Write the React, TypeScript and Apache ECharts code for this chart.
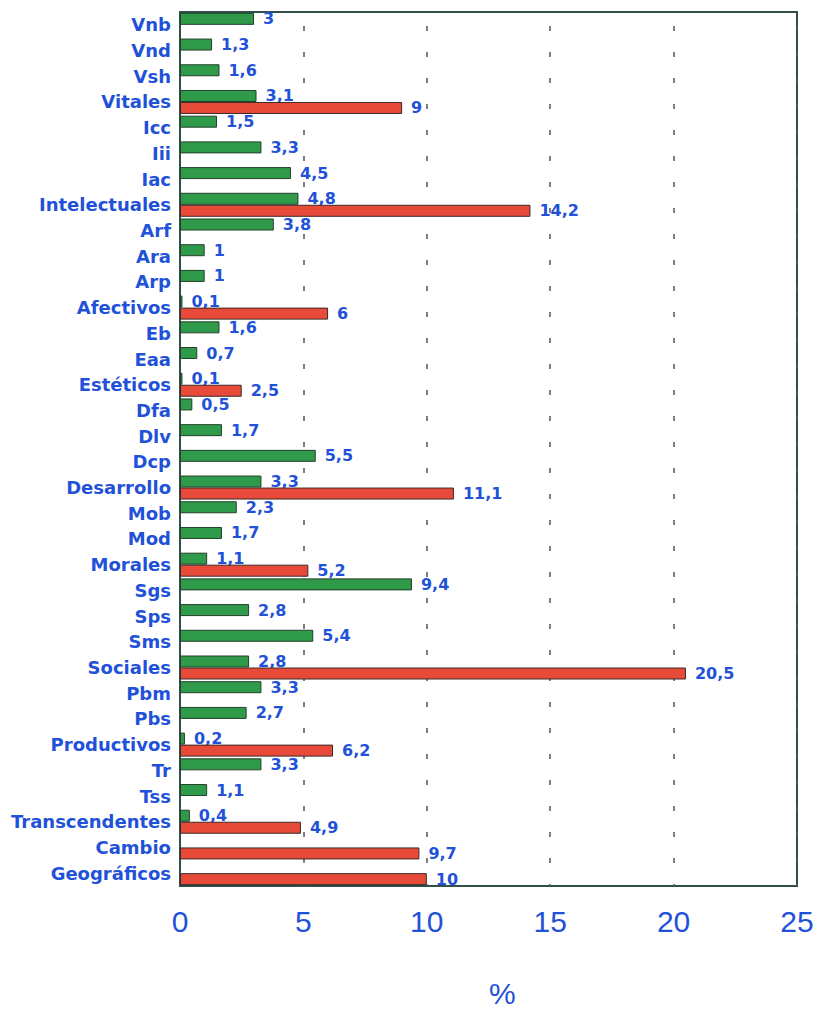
import React, { useEffect, useRef } from "react";
import * as echarts from "echarts";

const categories = [
  "Vnb", "Vnd", "Vsh", "Vitales", "Icc", "Iii", "Iac", "Intelectuales", "Arf", "Ara", "Arp",
  "Afectivos", "Eb", "Eaa", "Estéticos", "Dfa", "Dlv", "Dcp", "Desarrollo", "Mob", "Mod",
  "Morales", "Sgs", "Sps", "Sms", "Sociales", "Pbm", "Pbs", "Productivos", "Tr", "Tss",
  "Transcendentes", "Cambio", "Geográficos",
];

const greenValues: (number | null)[] = [
  3, 1.3, 1.6, 3.1, 1.5, 3.3, 4.5, 4.8, 3.8, 1, 1,
  0.1, 1.6, 0.7, 0.1, 0.5, 1.7, 5.5, 3.3, 2.3, 1.7,
  1.1, 9.4, 2.8, 5.4, 2.8, 3.3, 2.7, 0.2, 3.3, 1.1,
  0.4, null, null,
];

const redValues: (number | null)[] = [
  null, null, null, 9, null, null, null, 14.2, null, null, null,
  6, null, null, 2.5, null, null, null, 11.1, null, null,
  5.2, null, null, null, 20.5, null, null, 6.2, null, null,
  4.9, 9.7, 10,
];

const xTicks = [0, 5, 10, 15, 20, 25];

const BLUE = "#1f52d8";
const FONT = "'Liberation Sans', Arial, Helvetica, sans-serif";
const WIDE = "'DejaVu Sans', Verdana, sans-serif";

export default function App() {
  const ref = useRef<HTMLDivElement>(null);
  useEffect(() => {
    document.body.style.margin = "0";
    if (!ref.current) return;
    const chart = echarts.init(ref.current, null, { renderer: "svg" });
    const fmt = (p: any) => String(p.value).replace(".", ",");
    const valueLabel = {
      show: true,
      position: "right",
      distance: 9,
      color: BLUE,
      fontSize: 16,
      fontWeight: "bold",
      fontFamily: WIDE,
      formatter: fmt,
    };
    chart.setOption({
      animation: false,
      backgroundColor: "#ffffff",
      textStyle: { fontFamily: FONT },
      grid: {
        left: 180,
        right: 22,
        top: 12,
        bottom: 127,
        show: true,
        borderColor: "#2f4f48",
        borderWidth: 2,
        backgroundColor: "transparent",
      },
      xAxis: {
        type: "value",
        min: xTicks[0],
        max: xTicks[xTicks.length - 1],
        interval: 5,
        axisLine: { show: false },
        axisTick: { show: false },
        axisLabel: {
          color: BLUE,
          fontSize: 30,
          margin: 20,
          fontFamily: FONT,
        },
        splitLine: {
          show: true,
          lineStyle: { color: "#555555", width: 1.5, type: [5, 21], dashOffset: 12 },
        },
      },
      yAxis: {
        type: "category",
        data: categories,
        inverse: true,
        axisLine: { show: true, lineStyle: { color: "#2f4f48", width: 2 } },
        axisTick: { show: false },
        axisLabel: {
          color: BLUE,
          fontSize: 18,
          fontWeight: "bold",
          margin: 9,
          fontFamily: WIDE,
        },
        splitLine: { show: false },
      },
      graphic: [
        {
          type: "text",
          left: 489,
          top: 978,
          style: { text: "%", fill: BLUE, fontSize: 30, fontFamily: FONT },
        },
      ],
      series: [
        {
          type: "bar",
          name: "green",
          data: greenValues,
          barWidth: 12,
          barGap: "0%",
          z: 2,
          itemStyle: { color: "#2f9a4a", borderColor: "#24402a", borderWidth: 1 },
          label: valueLabel,
        },
        {
          type: "bar",
          name: "red",
          data: redValues,
          barWidth: 12,
          barGap: "0%",
          z: 3,
          itemStyle: { color: "#e84a3a", borderColor: "#3a2a26", borderWidth: 1 },
          label: valueLabel,
        },
      ],
    });
    return () => chart.dispose();
  }, []);
  return <div ref={ref} style={{ width: 819, height: 1013 }} />;
}
